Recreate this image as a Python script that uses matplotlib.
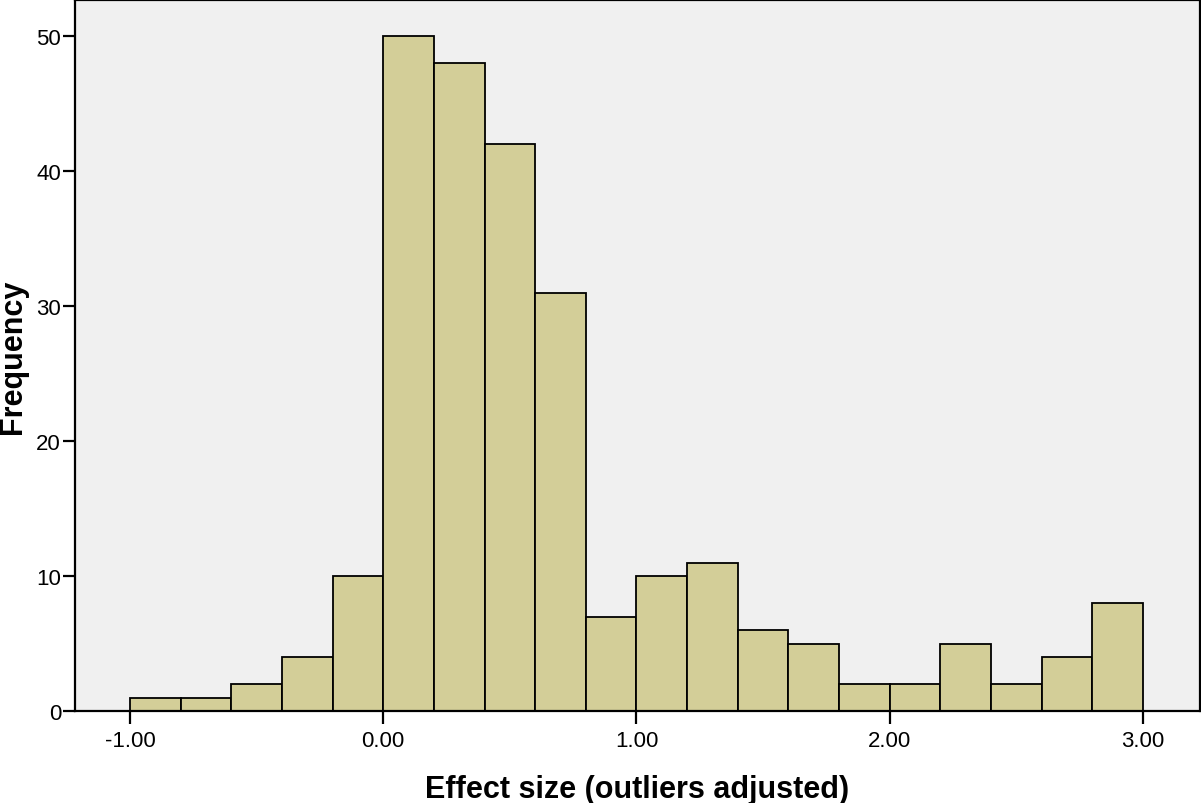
import numpy as np
import matplotlib
matplotlib.use("Agg")
from matplotlib import pyplot as plt

# histogram data, bins of width 0.2 from -1.0 to 3.0
bin_edges = np.round(np.arange(-1.0, 3.0001, 0.2), 2)
counts = [1, 1, 2, 4, 10, 50, 48, 42, 31, 7, 10, 11, 6, 5, 2, 2, 5, 2, 4, 8]
x_ticks = [-1.0, 0.0, 1.0, 2.0, 3.0]
x_tick_labels = ["-1.00", "0.00", "1.00", "2.00", "3.00"]
y_ticks = [0, 10, 20, 30, 40, 50]

plt.rcParams['font.family'] = ['Liberation Sans', 'DejaVu Sans']

fig = plt.figure(figsize=(12.01, 8.04), dpi=100)
ax = fig.add_axes([75/1201, 92/804, 1125/1201, 711/804])
ax.set_facecolor('#f0f0f0')

widths = np.diff(bin_edges)
ax.bar(bin_edges[:-1], counts, width=widths, align='edge',
       color='#d3ce98', edgecolor='black', linewidth=1.3, zorder=2)

ax.set_xlim(-1.217, 3.225)
ax.set_ylim(0, 52.67)
ax.set_xticks(x_ticks)
ax.set_xticklabels(x_tick_labels)
ax.set_yticks(y_ticks)

for s in ax.spines.values():
    s.set_linewidth(1.6)
ax.tick_params(axis='both', length=9, width=1.6, labelsize=16, color='black')
ax.tick_params(axis='x', pad=5)
ax.tick_params(axis='y', pad=1)

ax.set_xlabel("Effect size (outliers adjusted)", fontsize=22, fontweight='bold', labelpad=16)
ax.set_ylabel("Frequency", fontsize=22, fontweight='bold', labelpad=6)

fig.savefig("out.png", dpi=100)
